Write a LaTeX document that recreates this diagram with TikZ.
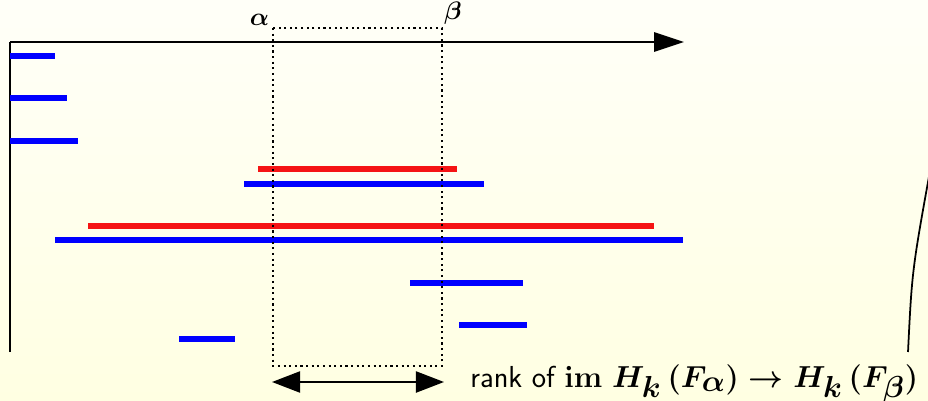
\documentclass[tikz,border=0pt]{standalone}
\usepackage{amsmath,amssymb}
\usetikzlibrary{arrows.meta,positioning,calc}
\definecolor{barBlue}{RGB}{0,0,255}
\definecolor{barRed}{RGB}{245,20,20}
\definecolor{bgTop}{RGB}{255,255,248}
\definecolor{bgBot}{RGB}{255,255,226}
\tikzset{
  bar/.style={line width=3.5pt},
  axis/.style={line width=1pt,-{Triangle[length=17pt,width=11pt]}},
  window/.style={line width=1.2pt,dotted},
  span/.style={line width=1.2pt,{Triangle[length=16pt,width=12pt]}-{Triangle[length=16pt,width=12pt]}},
  lbl/.style={font=\fontsize{14}{16}\selectfont,inner sep=0pt},
}
\newcommand{\bigsub}[1]{_{\textstyle #1}}
\newcommand{\rankmap}{{\fontsize{17.28}{20}\selectfont\textsf{rank of}} {\boldmath$\mathbf{im}\;H\bigsub{k}\,(F\bigsub{\alpha})\to H\bigsub{k}\,(F\bigsub{\beta})$}}
\begin{document}
\begin{tikzpicture}[x=0.02cm,y=-0.02cm]
    % background
    \shade[top color=bgTop,bottom color=bgBot] (0,0) rectangle (928,401);
    \useasboundingbox (0,0) rectangle (928,401);
    % axes
    \coordinate (origin) at (10,42);
    \coordinate (ybot) at (10,352);
    \coordinate (xend) at (684,42);
    \draw[line width=1pt] (ybot) -- (origin);
    \draw[axis] (origin) -- (xend);
    % barcode: y / start / end / colour
    \foreach \y/\p/\q/\c in {56/10/55/barBlue,98/10/67/barBlue,141/10/78/barBlue,
        169/258/457/barRed,184/244/484/barBlue,226/88/654/barRed,240/55/683/barBlue,
        283/410/523/barBlue,325/459/527/barBlue,339/179/235/barBlue}
       \draw[bar,\c] (\p,\y) -- (\q,\y);
    % window [alpha,beta]
    \coordinate (wa) at (273,28);
    \coordinate (wb) at (442,366);
    \draw[window] (wa) rectangle (wb);
    \node[lbl,anchor=south east] (alpha) at ([xshift=-2pt,yshift=1pt]wa) {$\boldsymbol{\alpha}$};
    \node[lbl,anchor=south west] (beta) at ([xshift=1pt,yshift=2pt]wa -| wb) {$\boldsymbol{\beta}$};
    % rank arrow
    \coordinate (ra) at (272,382);
    \coordinate (rb) at (444,382);
    \draw[span] (ra) -- (rb);
    \node[lbl,font=\fontsize{16}{18}\selectfont,anchor=base west] (rank) at (470,387) {\rankmap};
    % edge of curve on the right
    \coordinate (c1) at (908,352);
    \coordinate (c2) at (932,160);
    \draw[line width=1pt] (c1) .. controls (912,270) .. (c2);
\end{tikzpicture}
\end{document}
